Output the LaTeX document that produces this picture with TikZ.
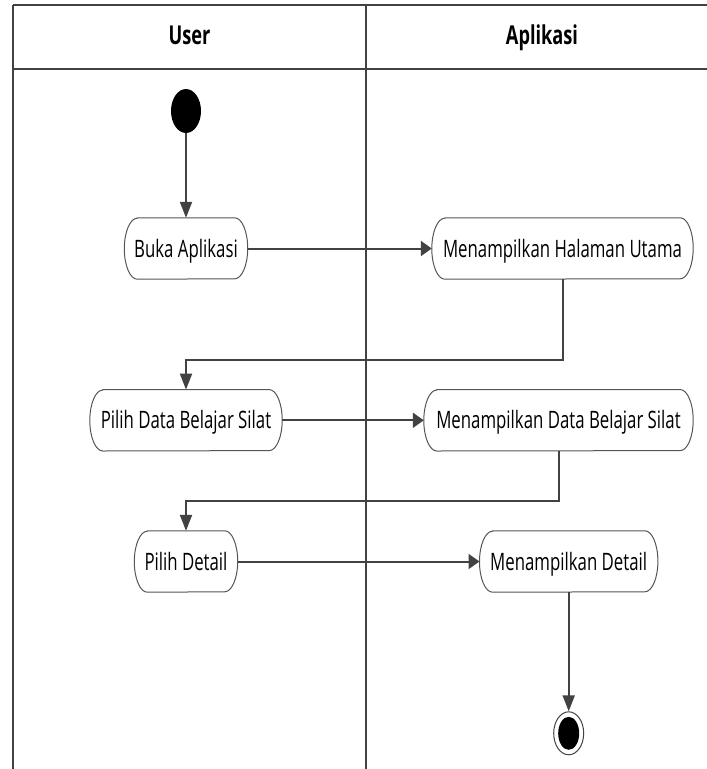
\documentclass[tikz,border=0pt]{standalone}
\usepackage{fontspec}
\setmainfont{Open Sans}[FakeStretch=0.7]
\usetikzlibrary{arrows.meta,shapes.geometric}
\definecolor{linecol}{HTML}{424242}
\definecolor{boxcol}{HTML}{555555}
\tikzset{
  lane/.style={draw=linecol, line width=2pt},
  acttext/.style={rectangle, inner sep=0pt, minimum height=61pt, text height=17pt, text depth=0pt, font=\fontsize{24}{28}\selectfont},
  actborder/.style={draw=boxcol, line width=1pt},
  vconn/.style={draw=linecol, line width=2pt, -{Triangle[length=16pt,width=12pt]}},
  hconn/.style={draw=linecol, line width=2pt, -{Triangle[length=11pt,width=15pt]}},
  lanetitle/.style={inner sep=0pt, text height=18pt, text depth=0pt, font=\bfseries\fontsize{26}{30}\selectfont}
}
\newcommand{\actoutline}[1]{%
  \draw[actborder] ([xshift=13pt]#1.north west) -- ([xshift=-13pt]#1.north east)
    arc[start angle=90, end angle=-90, x radius=13pt, y radius=30.5pt]
    -- ([xshift=13pt]#1.south west)
    arc[start angle=270, end angle=90, x radius=13pt, y radius=30.5pt] -- cycle;}
\begin{document}
\begin{tikzpicture}[x=1pt, y=-1pt]
\useasboundingbox (0,0) rectangle (707,769);
% swimlanes
\draw[lane] (12.7,4.5) -- (707,4.5);
\draw[lane] (12.7,69) -- (707,69);
\draw[lane] (12.7,4.5) -- (12.7,769);
\draw[lane] (366,4.5) -- (366,769);
\node[lanetitle] (tuser) at (189.5,35) {User};
\node[lanetitle] (tapp) at (542,35) {Aplikasi};
% start
\node[ellipse, fill=black, minimum width=30pt, minimum height=44pt, inner sep=0pt] (start) at (186,111) {};
% activities
\node[acttext, minimum width=123pt] (buka) at (186,248.5) {Buka Aplikasi};
\node[acttext, minimum width=261pt] (halaman) at (562.5,248.5) {Menampilkan Halaman Utama};
\node[acttext, minimum width=192pt] (pilih) at (186,420.3) {Pilih Data Belajar Silat};
\node[acttext, minimum width=269pt] (datasilat) at (558.5,420.3) {Menampilkan Data Belajar Silat};
\node[acttext, minimum width=103pt] (detail) at (186,561.5) {Pilih Detail};
\node[acttext, minimum width=178pt] (mdetail) at (568.7,561.5) {Menampilkan Detail};
\actoutline{buka}
\actoutline{halaman}
\actoutline{pilih}
\actoutline{datasilat}
\actoutline{detail}
\actoutline{mdetail}
% end
\node[ellipse, draw=linecol, line width=1pt, fill=white, minimum width=30pt, minimum height=43pt, inner sep=0pt] (end) at (568.7,733.3) {};
\fill[black] (end.center) ellipse [x radius=10.5pt, y radius=16.5pt];
% connectors
\draw[vconn] (start.south) -- (buka.north);
\draw[hconn] (buka.east) -- (halaman.west);
\draw[vconn] (halaman.south) -- ++(0,80.5) -| (pilih.north);
\draw[hconn] (pilih.east) -- (datasilat.west);
\draw[vconn] (datasilat.south) -- ++(0,49.5) -| (detail.north);
\draw[hconn] (detail.east) -- (mdetail.west);
\draw[vconn] (mdetail.south) -- (end.north);
\end{tikzpicture}
\end{document}
